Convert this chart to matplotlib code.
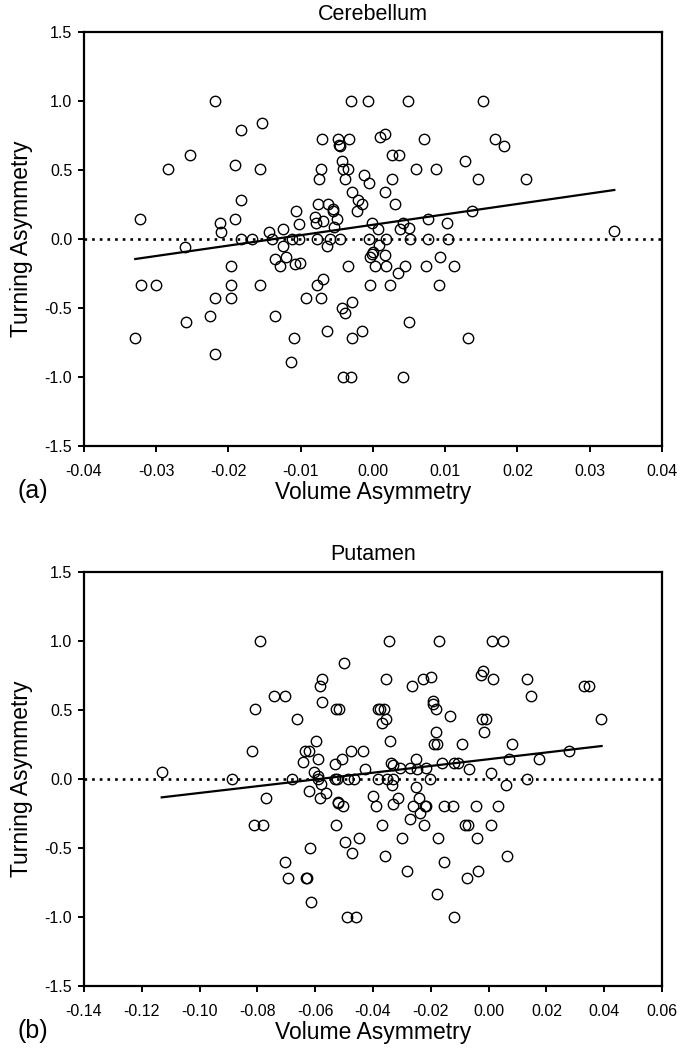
import numpy as np
from matplotlib import pyplot as plt

# Cerebellum panel: volume asymmetry vs turning asymmetry
cereb_vol = [-0.0219, -0.0030, -0.0007, 0.0048, 0.0152, -0.0153, -0.0182, -0.0253, -0.0284, -0.0191,
             -0.0157, -0.0070, -0.0048, -0.0033, -0.0047, -0.0046, 0.0010, 0.0017, -0.0043, -0.0042,
             -0.0035, -0.0072, -0.0075, -0.0039, -0.0013, -0.0006, -0.0029, -0.0021, -0.0015, -0.0022,
             -0.0076, -0.0062, -0.0055, -0.0056, -0.0050, -0.0080, -0.0069, -0.0079, -0.0054, -0.0107,
             -0.0103, -0.0124, -0.0183, -0.0191, -0.0212, -0.0211, -0.0322, -0.0144, -0.0140, -0.0182,
             -0.0168, -0.0112, -0.0103, -0.0077, -0.0060, -0.0045, -0.0006, 0.0018, 0.0051, 0.0076,
             0.0104, -0.0260, -0.0125, -0.0064, -0.0002, 0.0007, 0.0042, 0.0038, 0.0050, 0.0076,
             0.0102, 0.0137, 0.0333, 0.0071, 0.0169, 0.0181, 0.0027, 0.0036, 0.0127, 0.0059,
             0.0087, 0.0026, 0.0145, 0.0212, 0.0017, 0.0031, 0.0008, 0.0000, -0.0002, 0.0016,
             0.0093, -0.0136, -0.0120, -0.0128, -0.0108, -0.0101, -0.0034, 0.0003, -0.0004, -0.0197,
             -0.0197, -0.0321, -0.0301, -0.0156, -0.0219, -0.0197, -0.0259, -0.0226, -0.0330, -0.0219,
             -0.0136, -0.0093, -0.0072, -0.0078, -0.0069, -0.0110, -0.0113, -0.0063, -0.0043, -0.0039,
             -0.0029, -0.0029, -0.0015, -0.0041, -0.0030, -0.0004, 0.0018, 0.0035, 0.0045, 0.0073,
             0.0112, 0.0024, 0.0091, 0.0050, 0.0132, 0.0042]
cereb_turn = [1.0, 1.0, 1.0, 1.0, 1.0, 0.84, 0.786, 0.607, 0.505, 0.534,
              0.505, 0.72, 0.72, 0.72, 0.677, 0.67, 0.74, 0.756, 0.563, 0.505,
              0.505, 0.505, 0.433, 0.433, 0.459, 0.406, 0.336, 0.278, 0.251, 0.20,
              0.251, 0.251, 0.20, 0.215, 0.145, 0.155, 0.128, 0.111, 0.087, 0.203,
              0.104, 0.068, 0.278, 0.145, 0.116, 0.051, 0.145, 0.049, 0.0, 0.0,
              0.0, 0.0, 0.0, 0.0, 0.0, 0.0, 0.0, 0.0, 0.0, 0.0,
              0.0, -0.063, -0.055, -0.055, 0.116, 0.068, 0.116, 0.068, 0.080, 0.145,
              0.116, 0.203, 0.056, 0.72, 0.72, 0.672, 0.607, 0.607, 0.563, 0.505,
              0.505, 0.433, 0.433, 0.433, 0.336, 0.251, -0.046, -0.094, -0.111, -0.118,
              -0.135, -0.147, -0.135, -0.198, -0.183, -0.174, -0.198, -0.198, -0.333, -0.198,
              -0.333, -0.333, -0.333, -0.333, -0.43, -0.43, -0.601, -0.558, -0.717, -0.836,
              -0.558, -0.43, -0.43, -0.333, -0.294, -0.717, -0.893, -0.667, -0.5, -0.536,
              -0.457, -0.717, -0.667, -1.0, -1.0, -0.135, -0.198, -0.251, -0.198, -0.198,
              -0.198, -0.333, -0.333, -0.601, -0.717, -1.0]
# regression line end points as drawn
cereb_fit_x = [-0.0329, 0.0334]
cereb_fit_y = [-0.147, 0.353]

# Putamen panel
put_vol = [-0.0792, -0.0500, -0.0578, -0.0584, -0.0743, -0.0704, -0.0807, -0.0578, -0.0528, -0.0519,
           -0.0664, -0.0597, -0.0820, -0.0636, -0.0622, -0.0590, -0.0642, -0.0530, -0.0507, -0.0477,
           -0.0436, -0.0428, -0.0604, -0.1129, -0.0889, -0.0681, -0.0589, -0.0532, -0.0524, -0.0485,
           -0.0466, -0.0384, -0.0589, -0.0580, -0.0620, -0.0564, -0.0770, -0.0583, -0.0521, -0.0401,
           -0.0370, -0.0344, -0.0172, 0.0011, 0.0051, -0.0356, -0.0264, -0.0226, -0.0200, -0.0026,
           -0.0018, 0.0014, 0.0132, 0.0148, 0.0330, 0.0346, 0.0388, -0.0382, -0.0374, -0.0362,
           -0.0355, -0.0192, -0.0191, -0.0183, -0.0135, -0.0022, -0.0010, -0.0015, -0.0341, -0.0182,
           -0.0189, -0.0178, -0.0091, 0.0081, -0.0337, -0.0330, -0.0307, -0.0272, -0.0251, -0.0249,
           -0.0217, -0.0162, -0.0119, -0.0107, -0.0068, 0.0008, 0.0071, 0.0174, 0.0279, -0.0353,
           -0.0330, -0.0203, 0.0132, 0.0060, -0.0335, -0.0251, -0.0312, -0.0240, -0.0522, -0.0505,
           -0.0390, -0.0811, -0.0780, -0.0528, -0.0497, -0.0450, -0.0474, -0.0617, -0.0704, -0.0695,
           -0.0631, -0.0628, -0.0615, -0.0489, -0.0459, -0.0332, -0.0261, -0.0220, -0.0215, -0.0237,
           -0.0272, -0.0224, -0.0370, -0.0153, -0.0122, -0.0044, 0.0034, -0.0082, -0.0070, 0.0008,
           -0.0300, -0.0176, -0.0041, -0.0359, -0.0155, 0.0063, -0.0282, -0.0074, -0.0038, -0.0180,
           -0.0120]
put_turn = [1.0, 0.838, 0.72, 0.67, 0.601, 0.601, 0.505, 0.558, 0.505, 0.505,
            0.433, 0.273, 0.20, 0.20, 0.20, 0.14, 0.121, 0.107, 0.14, 0.20,
            0.20, 0.068, 0.046, 0.051, 0.0, 0.0, 0.0, 0.0, 0.0, 0.0,
            0.0, 0.0, 0.02, -0.041, -0.089, -0.106, -0.142, -0.142, -0.167, -0.123,
            0.404, 1.0, 1.0, 1.0, 1.0, 0.72, 0.67, 0.72, 0.737, 0.754,
            0.783, 0.72, 0.72, 0.601, 0.67, 0.67, 0.433, 0.505, 0.505, 0.505,
            0.433, 0.563, 0.541, 0.505, 0.457, 0.433, 0.433, 0.336, 0.273, 0.336,
            0.251, 0.251, 0.251, 0.251, 0.111, 0.10, 0.08, 0.08, 0.143, 0.068,
            0.08, 0.111, 0.111, 0.111, 0.068, 0.039, 0.143, 0.143, 0.20, 0.0,
            0.0, 0.0, 0.0, -0.048, -0.048, -0.06, -0.142, -0.142, -0.178, -0.198,
            -0.198, -0.333, -0.333, -0.333, -0.457, -0.432, -0.541, -0.504, -0.604, -0.722,
            -0.717, -0.717, -0.896, -1.0, -1.0, -0.183, -0.198, -0.198, -0.198, -0.251,
            -0.294, -0.333, -0.333, -0.198, -0.198, -0.198, -0.198, -0.333, -0.333, -0.333,
            -0.432, -0.432, -0.432, -0.56, -0.604, -0.56, -0.669, -0.722, -0.669, -0.838,
            -1.0]
put_fit_x = [-0.1131, 0.0391]
put_fit_y = [-0.135, 0.237]

plt.rcParams['font.family'] = 'Liberation Sans'
plt.rcParams['axes.unicode_minus'] = False

fig = plt.figure(figsize=(6.9, 10.5), dpi=100)

panels = [
    # title, x data, y data, fit x, fit y, xlim, xticks, tag, axes rect
    ('Cerebellum', cereb_vol, cereb_turn, cereb_fit_x, cereb_fit_y,
     (-0.04, 0.04), np.arange(-0.04, 0.041, 0.01), '(a)', [0.1217, 0.5755, 0.8377, 0.3943]),
    ('Putamen', put_vol, put_turn, put_fit_x, put_fit_y,
     (-0.14, 0.06), np.arange(-0.14, 0.061, 0.02), '(b)', [0.1217, 0.0612, 0.8377, 0.3943]),
]

for title, xs, ys, fx, fy, xlim, xticks, tag, rect in panels:
    ax = fig.add_axes(rect)

    # zero reference line, dotted across the full width
    ax.axhline(0, color='black', linewidth=1.9, linestyle=(0, (1, 1.9)), zorder=1)
    # fitted line
    ax.plot(fx, fy, color='black', linewidth=1.6, zorder=2)
    # open circle markers
    ax.plot(xs, ys, linestyle='none', marker='o', markersize=7.5,
            markerfacecolor='none', markeredgecolor='black', markeredgewidth=1.0, zorder=3)

    ax.set_xlim(*xlim)
    ax.set_ylim(-1.5, 1.5)
    ax.set_xticks(xticks)
    ax.set_xticklabels([f'{t:.2f}' if abs(t) > 1e-9 else '0.00' for t in xticks])
    yticks = np.arange(-1.5, 1.51, 0.5)
    ax.set_yticks(yticks)
    ax.set_yticklabels([f'{t:.1f}' if abs(t) > 1e-9 else '0.0' for t in yticks])

    for s in ax.spines.values():
        s.set_linewidth(1.6)
    ax.tick_params(direction='out', length=4.5, width=1.4, labelsize=11.5)
    ax.tick_params(axis='x', pad=8.5)
    ax.tick_params(axis='y', pad=4)

    ax.set_title(title, fontsize=15.5, pad=8.5)
    ax.set_xlabel('Volume Asymmetry', fontsize=16.5, labelpad=1.5)
    ax.set_ylabel('Turning Asymmetry', fontsize=16.5, labelpad=8)

    # panel tag in the lower left corner
    pos = ax.get_position()
    fig.text(0.025, pos.y0 - 0.043, tag, fontsize=18, va='center', ha='left')

fig.savefig('out.png', dpi=100)
